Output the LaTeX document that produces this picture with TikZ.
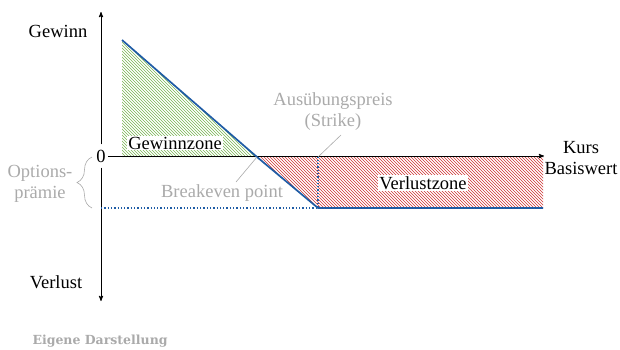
\documentclass[tikz,border=0pt]{standalone}
\usepackage{fontspec}
\setmainfont{Liberation Serif}
\newfontfamily\quellefont{DejaVu Serif}
\usetikzlibrary{positioning,arrows,patterns,decorations.pathreplacing}
\definecolor{kursblau}{RGB}{31,92,165}
\definecolor{gewinngruen}{RGB}{120,180,80}
\definecolor{verlustrot}{RGB}{205,50,50}
\definecolor{hinweisgrau}{RGB}{170,170,170}

\begin{document}
\begin{tikzpicture}[x=1pt,y=-1pt,>=stealth',
  font=\fontsize{18.5}{21}\selectfont,
  achse/.style={->,line width=0.9pt,black},
  auszahlung/.style={line width=1.7pt,kursblau,line join=round},
  hilfslinie/.style={kursblau,dotted,line width=1.3pt},
  zone/.style={fill=white,inner sep=1pt},
  hinweis/.style={text=hinweisgrau,align=center,inner sep=1pt},
  hinweislinie/.style={hinweisgrau,line width=0.6pt}]
  \useasboundingbox (0,0) rectangle (620,349);
  % Eckpunkte der Auszahlung
  \coordinate (start) at (122,40);
  \coordinate (be) at (257,157);
  \coordinate (strike) at (318,208);
  \coordinate (ende) at (543,208);
  \coordinate (praemie) at (101,208);
  % Zonen
  \fill[pattern=north west lines,pattern color=gewinngruen]
    (start) -- (be) -- (start |- be) -- cycle;
  \fill[pattern=north west lines,pattern color=verlustrot]
    (be) -- (strike) -- (ende) -- (ende |- be) -- cycle;
  % Achsen
  \node[minimum height=23pt,inner sep=2pt] (null) at (101,156) {0};
  \draw[achse] (null.north) -- (101,12);
  \draw[achse] (null.south) -- (101,301);
  \draw[achse] (null.east) -- (544,156);
  % Auszahlungsprofil
  \draw[hilfslinie] (praemie) -- (strike) -- (strike |- be);
  \draw[auszahlung] (start) -- (be) -- (strike) -- (ende);
  % Beschriftungen
  \node (gewinn) at (58,31) {Gewinn};
  \node (verlust) at (56,282) {Verlust};
  \node[align=center] (kurs) at (581,158) {Kurs\\Basiswert};
  \node[zone] (gzone) at (175,143) {Gewinnzone};
  \node[zone] (vzone) at (423,183) {Verlustzone};
  \node[hinweis] (strikelbl) at (333,112) {Ausübungspreis\\(Strike)};
  \node[hinweis] (belbl) at (222,193) {Breakeven point};
  \node[hinweis] (praemielbl) at (40,184) {Options-\\prämie};
  \coordinate (befuss) at (236,182);
  \coordinate (strikefuss) at (341,135);
  \draw[hinweislinie] (be) -- (befuss);
  \draw[hinweislinie] (strike |- be) -- (strikefuss);
  \draw[hinweislinie,decorate,decoration={brace,amplitude=15pt}]
    (92,208) -- (92,157);
  \node[anchor=west,text=hinweisgrau,font=\quellefont\bfseries\fontsize{12.5}{14}\selectfont]
    (quelle) at (29,341) {Eigene Darstellung};
\end{tikzpicture}
\end{document}
